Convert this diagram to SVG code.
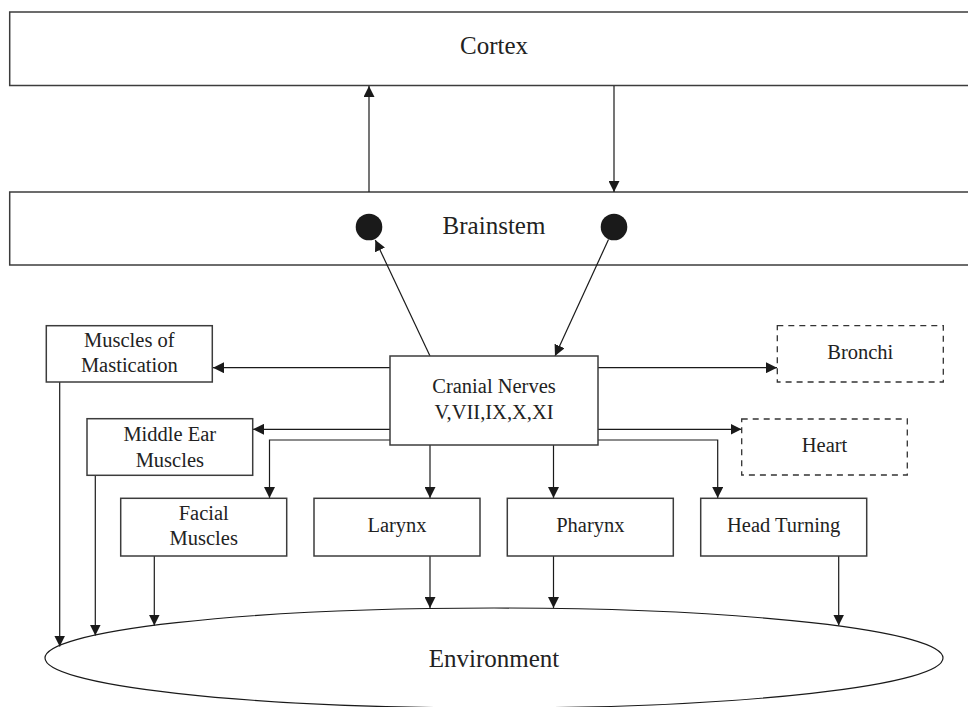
<svg xmlns="http://www.w3.org/2000/svg" width="968" height="707" viewBox="0 0 968 707">
<defs>
<marker id="ah" markerUnits="userSpaceOnUse" markerWidth="11" markerHeight="11" viewBox="0 0 11 11" refX="11" refY="5.5" orient="auto">
<path d="M0,0 L11,5.5 L0,11 z" fill="#1a1a1a"/>
</marker>
<style>
.box{fill:#fff;stroke:#3c3c3c;stroke-width:1.5}
.dash{fill:#fff;stroke:#333;stroke-width:1.3;stroke-dasharray:6 5}
.big{font-family:"Liberation Serif","Times New Roman",serif;font-size:25px;fill:#222;text-anchor:middle}
.lbl{font-family:"Liberation Serif","Times New Roman",serif;font-size:20.5px;fill:#222;text-anchor:middle}
.c{fill:none;stroke:#1a1a1a;stroke-width:1.2;marker-end:url(#ah)}
.p{fill:none;stroke:#1a1a1a;stroke-width:1.2}
</style>
</defs>
<rect width="968" height="707" fill="#fff"/>

<g id="cortex">
<rect class="box" x="9.7" y="12" width="975" height="73.5"/>
<text class="big" x="494" y="54.3">Cortex</text>
</g>

<g id="brainstem">
<rect class="box" x="9.7" y="192" width="975" height="73"/>
<text class="big" x="494" y="234">Brainstem</text>
<circle cx="369" cy="227" r="13.3" fill="#1a1a1a"/>
<circle cx="614" cy="227" r="13.3" fill="#1a1a1a"/>
</g>

<g id="environment">
<ellipse cx="494" cy="658" rx="449" ry="50" fill="#fff" stroke="#1a1a1a" stroke-width="1.2"/>
<text class="big" x="494" y="666.7">Environment</text>
</g>

<g id="connectors">
<line class="c" x1="369" y1="192" x2="369" y2="86"/>
<line class="c" x1="614" y1="86" x2="614" y2="192"/>
<line class="c" x1="430" y1="356" x2="375.3" y2="240"/>
<line class="c" x1="608.5" y1="239.5" x2="555" y2="356"/>
<line class="c" x1="390" y1="367.7" x2="213" y2="367.7"/>
<line class="c" x1="598" y1="367.7" x2="777" y2="367.7"/>
<line class="c" x1="390" y1="429.3" x2="253" y2="429.3"/>
<line class="c" x1="598" y1="429.3" x2="741.5" y2="429.3"/>
<path class="c" d="M390,440 H269.5 V498"/>
<path class="c" d="M598,440 H717.7 V498"/>
<line class="c" x1="430" y1="445" x2="430" y2="498"/>
<line class="c" x1="553.5" y1="445" x2="553.5" y2="498"/>
<line class="c" x1="59.7" y1="382" x2="59.7" y2="646.5"/>
<line class="c" x1="95.3" y1="475" x2="95.3" y2="635.5"/>
<line class="c" x1="154.3" y1="556" x2="154.3" y2="625.5"/>
<line class="c" x1="430" y1="556" x2="430" y2="608"/>
<line class="c" x1="553.5" y1="556" x2="553.5" y2="608"/>
<line class="c" x1="838.7" y1="556" x2="838.7" y2="625.5"/>
</g>

<g id="cranial">
<rect class="box" x="390" y="356" width="208" height="89"/>
<text class="lbl" x="494" y="393">Cranial Nerves</text>
<text class="lbl" x="494" y="419">V,VII,IX,X,XI</text>
</g>

<g id="mastication">
<rect class="box" x="46.3" y="325.7" width="166" height="56.3"/>
<text class="lbl" x="129.3" y="346.7">Muscles of</text>
<text class="lbl" x="129.3" y="371.7">Mastication</text>
</g>

<g id="middle-ear">
<rect class="box" x="87" y="418.7" width="165.7" height="56.6"/>
<text class="lbl" x="169.8" y="440.7">Middle Ear</text>
<text class="lbl" x="169.8" y="466.7">Muscles</text>
</g>

<g id="facial">
<rect class="box" x="120.7" y="498.3" width="166" height="57.7"/>
<text class="lbl" x="203.7" y="520">Facial</text>
<text class="lbl" x="203.7" y="545">Muscles</text>
</g>

<g id="larynx">
<rect class="box" x="314" y="498.3" width="166" height="57.7"/>
<text class="lbl" x="397" y="531.7">Larynx</text>
</g>

<g id="pharynx">
<rect class="box" x="507.3" y="498.3" width="166" height="57.7"/>
<text class="lbl" x="590.3" y="531.7">Pharynx</text>
</g>

<g id="head-turning">
<rect class="box" x="700.7" y="498.3" width="166" height="57.7"/>
<text class="lbl" x="783.7" y="531.7">Head Turning</text>
</g>

<g id="bronchi">
<rect class="dash" x="777.3" y="325.7" width="166" height="56.3"/>
<text class="lbl" x="860.3" y="359">Bronchi</text>
</g>

<g id="heart">
<rect class="dash" x="741.7" y="419" width="165.6" height="56"/>
<text class="lbl" x="824.5" y="452.3">Heart</text>
</g>
</svg>
